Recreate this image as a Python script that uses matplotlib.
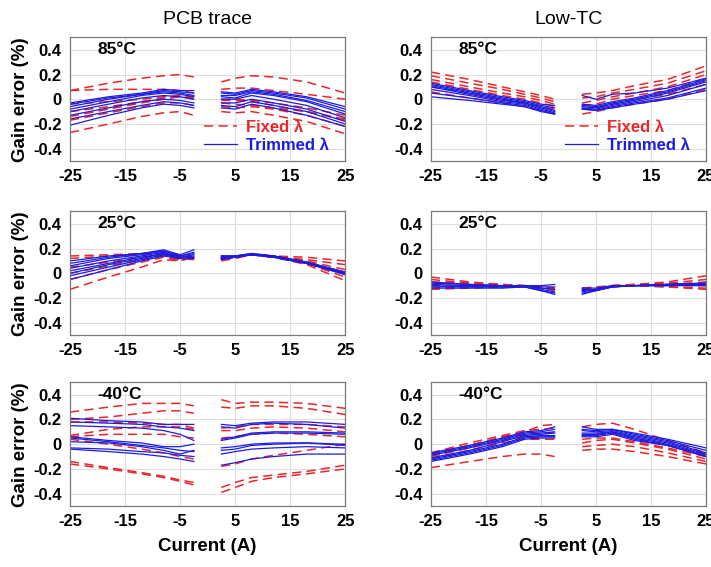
"""Gain error vs current for PCB trace and Low-TC shunts at three temperatures.

Each curve is sampled at the currents in X_NEG and X_POS; the first six
values of a row belong to the negative branch, the last six to the positive.
"""

import matplotlib.pyplot as plt

X_NEG = [-25, -18, -12, -8, -5, -2.5]
X_POS = [2.5, 5, 8, 12, 18, 25]

COLUMN_TITLES = ["PCB trace", "Low-TC"]
TEMPERATURES = ["85°C", "25°C", "-40°C"]
X_TICKS = [-25, -15, -5, 5, 15, 25]
Y_TICKS = [-0.4, -0.2, 0, 0.2, 0.4]
Y_TICK_LABELS = ["-0.4", "-0.2", "0", "0.2", "0.4"]

# ---- PCB trace, 85 C
PCB_85_FIXED = [
    [0.07, 0.13, 0.17, 0.19, 0.20, 0.18, 0.14, 0.17, 0.19, 0.18, 0.14, 0.05],
    [0.07, 0.08, 0.08, 0.08, 0.07, 0.05, 0.08, 0.09, 0.09, 0.07, 0.04, 0.00],
    [-0.04, -0.02, 0.00, 0.02, 0.03, 0.02, -0.03, -0.04, -0.05, -0.07, -0.10, -0.17],
    [-0.10, -0.06, -0.02, 0.01, 0.02, 0.00, 0.00, 0.00, -0.01, -0.03, -0.07, -0.13],
    [-0.14, -0.08, -0.03, 0.00, 0.02, 0.01, -0.01, -0.01, -0.02, -0.05, -0.10, -0.16],
    [-0.17, -0.11, -0.06, -0.03, -0.03, -0.05, -0.06, -0.07, -0.06, -0.08, -0.13, -0.22],
    [-0.27, -0.20, -0.14, -0.11, -0.10, -0.13, -0.10, -0.11, -0.10, -0.13, -0.18, -0.28],
]
PCB_85_TRIMMED = [
    [-0.03, 0.02, 0.05, 0.08, 0.07, 0.07, 0.06, 0.05, 0.08, 0.06, 0.02, -0.06],
    [-0.04, 0.01, 0.04, 0.07, 0.06, 0.05, 0.05, 0.04, 0.07, 0.05, 0.01, -0.08],
    [-0.06, 0.00, 0.04, 0.06, 0.05, 0.03, 0.03, 0.03, 0.06, 0.04, -0.01, -0.10],
    [-0.08, -0.02, 0.03, 0.05, 0.04, 0.02, 0.02, 0.01, 0.05, 0.03, -0.02, -0.12],
    [-0.10, -0.04, 0.01, 0.03, 0.02, 0.00, 0.00, 0.00, 0.03, 0.00, -0.05, -0.15],
    [-0.13, -0.07, -0.02, 0.00, -0.01, -0.03, -0.03, -0.03, 0.00, -0.03, -0.08, -0.18],
    [-0.16, -0.10, -0.05, -0.02, -0.03, -0.05, -0.05, -0.06, -0.02, -0.05, -0.10, -0.20],
    [-0.21, -0.13, -0.07, -0.04, -0.05, -0.07, -0.07, -0.08, -0.04, -0.07, -0.13, -0.22],
]

# ---- Low-TC, 85 C
LTC_85_FIXED = [
    [0.22, 0.16, 0.10, 0.06, 0.03, 0.00, 0.04, 0.05, 0.07, 0.11, 0.16, 0.27],
    [0.19, 0.13, 0.08, 0.04, 0.01, -0.02, 0.01, 0.02, 0.05, 0.08, 0.13, 0.23],
    [0.16, 0.10, 0.05, 0.02, -0.01, -0.04, -0.03, -0.01, 0.02, 0.05, 0.10, 0.20],
    [0.14, 0.08, 0.03, 0.00, -0.03, -0.06, -0.05, -0.04, 0.00, 0.03, 0.07, 0.17],
    [0.10, 0.05, 0.00, -0.03, -0.06, -0.08, -0.08, -0.07, -0.04, 0.00, 0.04, 0.12],
    [0.06, 0.01, -0.03, -0.06, -0.09, -0.12, -0.12, -0.10, -0.07, -0.04, 0.00, 0.08],
]
LTC_85_TRIMMED = [
    [0.13, 0.07, 0.02, -0.01, -0.04, -0.05, 0.03, 0.00, 0.04, 0.05, 0.09, 0.17],
    [0.12, 0.06, 0.01, -0.02, -0.05, -0.07, -0.04, -0.05, -0.02, 0.01, 0.07, 0.16],
    [0.11, 0.05, 0.00, -0.03, -0.06, -0.09, -0.05, -0.06, -0.03, 0.00, 0.06, 0.15],
    [0.10, 0.04, -0.01, -0.03, -0.07, -0.10, -0.06, -0.07, -0.04, -0.01, 0.05, 0.14],
    [0.08, 0.03, -0.02, -0.04, -0.08, -0.11, -0.07, -0.08, -0.05, -0.02, 0.03, 0.12],
    [0.05, 0.01, -0.03, -0.05, -0.09, -0.12, -0.08, -0.09, -0.06, -0.03, 0.01, 0.09],
    [0.02, -0.01, -0.04, -0.06, -0.10, -0.12, -0.08, -0.09, -0.07, -0.04, 0.00, 0.07],
]

# ---- PCB trace, 25 C
PCB_25_FIXED = [
    [0.14, 0.15, 0.16, 0.16, 0.15, 0.13, 0.11, 0.13, 0.15, 0.14, 0.13, 0.10],
    [0.12, 0.14, 0.15, 0.16, 0.14, 0.12, 0.12, 0.13, 0.15, 0.14, 0.11, 0.07],
    [0.05, 0.09, 0.13, 0.15, 0.12, 0.11, 0.13, 0.14, 0.15, 0.14, 0.10, 0.03],
    [0.00, 0.06, 0.11, 0.14, 0.11, 0.12, 0.14, 0.14, 0.15, 0.13, 0.09, 0.00],
    [-0.05, 0.03, 0.09, 0.13, 0.10, 0.13, 0.10, 0.12, 0.15, 0.13, 0.08, -0.03],
    [-0.13, -0.03, 0.05, 0.11, 0.10, 0.14, 0.12, 0.13, 0.15, 0.13, 0.07, -0.06],
]
PCB_25_TRIMMED = [
    [0.10, 0.14, 0.16, 0.19, 0.15, 0.19, 0.14, 0.14, 0.16, 0.14, 0.09, 0.01],
    [0.08, 0.13, 0.16, 0.18, 0.14, 0.17, 0.13, 0.14, 0.16, 0.14, 0.09, 0.00],
    [0.06, 0.12, 0.15, 0.18, 0.14, 0.16, 0.12, 0.13, 0.15, 0.14, 0.09, 0.00],
    [0.04, 0.10, 0.14, 0.17, 0.13, 0.15, 0.11, 0.13, 0.15, 0.14, 0.08, -0.01],
    [0.02, 0.08, 0.13, 0.16, 0.13, 0.14, 0.12, 0.13, 0.15, 0.13, 0.08, 0.00],
    [0.00, 0.07, 0.12, 0.16, 0.12, 0.13, 0.13, 0.13, 0.15, 0.13, 0.08, -0.01],
    [-0.02, 0.05, 0.11, 0.15, 0.12, 0.12, 0.14, 0.14, 0.15, 0.14, 0.09, 0.01],
    [-0.05, 0.03, 0.10, 0.14, 0.12, 0.12, 0.12, 0.13, 0.15, 0.13, 0.08, 0.00],
]

# ---- Low-TC, 25 C
LTC_25_FIXED = [
    [-0.03, -0.07, -0.09, -0.10, -0.11, -0.12, -0.13, -0.12, -0.10, -0.09, -0.07, -0.02],
    [-0.05, -0.08, -0.09, -0.10, -0.11, -0.12, -0.12, -0.12, -0.10, -0.09, -0.08, -0.05],
    [-0.07, -0.08, -0.10, -0.10, -0.11, -0.13, -0.13, -0.12, -0.10, -0.10, -0.09, -0.07],
    [-0.10, -0.10, -0.10, -0.10, -0.11, -0.13, -0.12, -0.11, -0.10, -0.10, -0.10, -0.10],
    [-0.12, -0.11, -0.11, -0.11, -0.12, -0.13, -0.12, -0.12, -0.10, -0.10, -0.11, -0.12],
    [-0.13, -0.12, -0.11, -0.11, -0.12, -0.14, -0.14, -0.12, -0.10, -0.10, -0.11, -0.13],
]
LTC_25_TRIMMED = [
    [-0.07, -0.09, -0.10, -0.10, -0.10, -0.09, -0.12, -0.12, -0.10, -0.10, -0.09, -0.08],
    [-0.08, -0.09, -0.10, -0.10, -0.11, -0.11, -0.14, -0.13, -0.10, -0.10, -0.09, -0.08],
    [-0.09, -0.10, -0.10, -0.10, -0.12, -0.13, -0.15, -0.13, -0.11, -0.10, -0.09, -0.08],
    [-0.10, -0.11, -0.11, -0.10, -0.13, -0.15, -0.13, -0.14, -0.11, -0.10, -0.09, -0.09],
    [-0.11, -0.11, -0.11, -0.11, -0.14, -0.16, -0.17, -0.14, -0.11, -0.10, -0.10, -0.09],
    [-0.12, -0.12, -0.12, -0.11, -0.14, -0.17, -0.16, -0.14, -0.11, -0.10, -0.10, -0.10],
]

# ---- PCB trace, -40 C
PCB_M40_FIXED = [
    [0.26, 0.30, 0.33, 0.33, 0.33, 0.31, 0.36, 0.33, 0.34, 0.34, 0.33, 0.29],
    [0.20, 0.22, 0.25, 0.27, 0.27, 0.25, 0.30, 0.29, 0.31, 0.31, 0.29, 0.24],
    [0.18, 0.18, 0.17, 0.16, 0.16, 0.13, 0.13, 0.14, 0.16, 0.16, 0.16, 0.14],
    [0.07, 0.12, 0.14, 0.14, 0.14, 0.12, 0.11, 0.11, 0.13, 0.14, 0.13, 0.10],
    [0.06, 0.08, 0.08, 0.08, 0.06, 0.05, 0.05, 0.06, 0.08, 0.09, 0.08, 0.06],
    [0.04, 0.00, -0.04, -0.07, -0.10, -0.12, -0.18, -0.16, -0.12, -0.09, -0.05, 0.00],
    [-0.14, -0.19, -0.23, -0.26, -0.29, -0.31, -0.35, -0.31, -0.27, -0.25, -0.22, -0.17],
    [-0.16, -0.20, -0.24, -0.27, -0.30, -0.33, -0.39, -0.35, -0.30, -0.27, -0.24, -0.20],
]
PCB_M40_TRIMMED = [
    [0.21, 0.19, 0.18, 0.16, 0.16, 0.16, 0.16, 0.15, 0.17, 0.18, 0.18, 0.16],
    [0.18, 0.17, 0.16, 0.14, 0.13, 0.11, 0.14, 0.13, 0.16, 0.17, 0.16, 0.13],
    [0.15, 0.14, 0.13, 0.11, 0.08, 0.03, 0.04, 0.06, 0.09, 0.10, 0.10, 0.09],
    [0.06, 0.03, 0.01, -0.02, -0.02, 0.00, 0.03, 0.05, 0.08, 0.09, 0.09, 0.08],
    [0.05, 0.02, -0.01, -0.03, -0.05, -0.06, -0.03, -0.02, 0.00, 0.01, 0.01, 0.00],
    [0.02, 0.01, -0.02, -0.05, -0.08, -0.05, -0.05, -0.04, -0.01, 0.00, 0.01, -0.01],
    [-0.03, -0.04, -0.06, -0.07, -0.09, -0.10, -0.08, -0.06, -0.04, -0.03, -0.02, -0.03],
    [-0.04, -0.06, -0.08, -0.10, -0.12, -0.14, -0.17, -0.15, -0.12, -0.10, -0.08, -0.08],
]

# ---- Low-TC, -40 C
LTC_M40_FIXED = [
    [-0.19, -0.14, -0.10, -0.08, -0.08, -0.10, -0.05, -0.04, -0.04, -0.06, -0.10, -0.16],
    [-0.12, -0.05, 0.01, 0.04, 0.04, 0.04, -0.02, -0.01, 0.00, -0.02, -0.07, -0.14],
    [-0.10, -0.03, 0.03, 0.06, 0.06, 0.07, 0.01, 0.03, 0.04, 0.01, -0.04, -0.12],
    [-0.08, -0.01, 0.05, 0.08, 0.08, 0.10, 0.04, 0.05, 0.05, 0.02, -0.03, -0.10],
    [-0.07, 0.01, 0.07, 0.11, 0.12, 0.13, 0.07, 0.08, 0.09, 0.05, -0.01, -0.08],
    [-0.09, -0.01, 0.06, 0.10, 0.15, 0.16, 0.14, 0.16, 0.17, 0.12, 0.03, -0.07],
]
LTC_M40_TRIMMED = [
    [-0.07, -0.01, 0.05, 0.10, 0.11, 0.14, 0.14, 0.12, 0.12, 0.09, 0.04, -0.03],
    [-0.08, -0.02, 0.04, 0.09, 0.10, 0.12, 0.12, 0.11, 0.12, 0.08, 0.03, -0.05],
    [-0.09, -0.03, 0.03, 0.08, 0.09, 0.10, 0.11, 0.10, 0.11, 0.07, 0.02, -0.07],
    [-0.11, -0.05, 0.02, 0.07, 0.08, 0.09, 0.09, 0.09, 0.10, 0.06, 0.01, -0.08],
    [-0.12, -0.06, 0.00, 0.06, 0.07, 0.07, 0.08, 0.08, 0.10, 0.05, 0.00, -0.09],
    [-0.13, -0.07, -0.01, 0.05, 0.06, 0.06, 0.07, 0.07, 0.09, 0.04, -0.01, -0.10],
    [-0.14, -0.08, -0.02, 0.04, 0.05, 0.05, 0.06, 0.06, 0.08, 0.03, -0.01, -0.10],
]

# rows = temperatures, columns = shunt type
PANELS = [
    [(PCB_85_FIXED, PCB_85_TRIMMED), (LTC_85_FIXED, LTC_85_TRIMMED)],
    [(PCB_25_FIXED, PCB_25_TRIMMED), (LTC_25_FIXED, LTC_25_TRIMMED)],
    [(PCB_M40_FIXED, PCB_M40_TRIMMED), (LTC_M40_FIXED, LTC_M40_TRIMMED)],
]

RED = "#e8272b"
BLUE = "#1c1ce0"

# axes rectangles in figure fractions (left, bottom, width, height)
COL_LEFT = [0.0985, 0.606]
ROW_BOTTOM = [0.716, 0.409, 0.1076]
AX_W = 0.387
AX_H = 0.218


def draw_curves(ax, rows, color, style, lw, label):
    n = len(X_NEG)
    dash = (6, 3.5) if style == "--" else (None, None)
    for i, row in enumerate(rows):
        lab = label if i == 0 else None
        ax.plot(X_NEG, row[:n], color=color, linestyle=style, lw=lw,
                dashes=dash, label=lab)
        ax.plot(X_POS, row[n:], color=color, linestyle=style, lw=lw,
                dashes=dash)


def main() -> None:
    plt.rcParams["font.family"] = ["Liberation Sans", "DejaVu Sans"]
    plt.rcParams["axes.unicode_minus"] = False
    fig = plt.figure(figsize=(7.11, 5.67), dpi=100)

    for r, temp in enumerate(TEMPERATURES):
        for c in range(2):
            ax = fig.add_axes([COL_LEFT[c], ROW_BOTTOM[r], AX_W, AX_H])
            fixed, trimmed = PANELS[r][c]
            draw_curves(ax, fixed, RED, "--", 1.1, "Fixed λ")
            draw_curves(ax, trimmed, BLUE, "-", 0.9, "Trimmed λ")

            ax.set_xlim(-25, 25)
            ax.set_ylim(-0.5, 0.5)
            ax.set_xticks(X_TICKS)
            ax.set_yticks(Y_TICKS)
            ax.set_yticklabels(Y_TICK_LABELS)
            ax.tick_params(length=0, labelsize=12, pad=6)
            for lbl in ax.get_xticklabels() + ax.get_yticklabels():
                lbl.set_fontweight("bold")
            ax.grid(True, color="#dedede", linewidth=0.8)
            ax.set_axisbelow(True)
            for sp in ax.spines.values():
                sp.set_color("#7a7a7a")
                sp.set_linewidth(0.9)

            ax.text(-20, 0.4, temp, ha="left", va="center",
                    fontsize=12.5, fontweight="bold")

            if c == 0:
                ax.set_ylabel("Gain error (%)", fontsize=13.5,
                              fontweight="bold", labelpad=3)
            if r == 0:
                ax.set_title(COLUMN_TITLES[c], fontsize=14, pad=10)
                leg = ax.legend(loc="lower right", frameon=False,
                                handlelength=2.0, handletextpad=0.5,
                                borderaxespad=0.1, labelspacing=0.15,
                                prop={"size": 12, "weight": "bold"},
                                bbox_to_anchor=(0.97, 0.0))
                for txt, col in zip(leg.get_texts(), [RED, BLUE]):
                    txt.set_color(col)
            if r == 2:
                ax.set_xlabel("Current (A)", fontsize=13.5,
                              fontweight="bold", labelpad=6)

    fig.savefig("out.png", dpi=100)


if __name__ == "__main__":
    main()
